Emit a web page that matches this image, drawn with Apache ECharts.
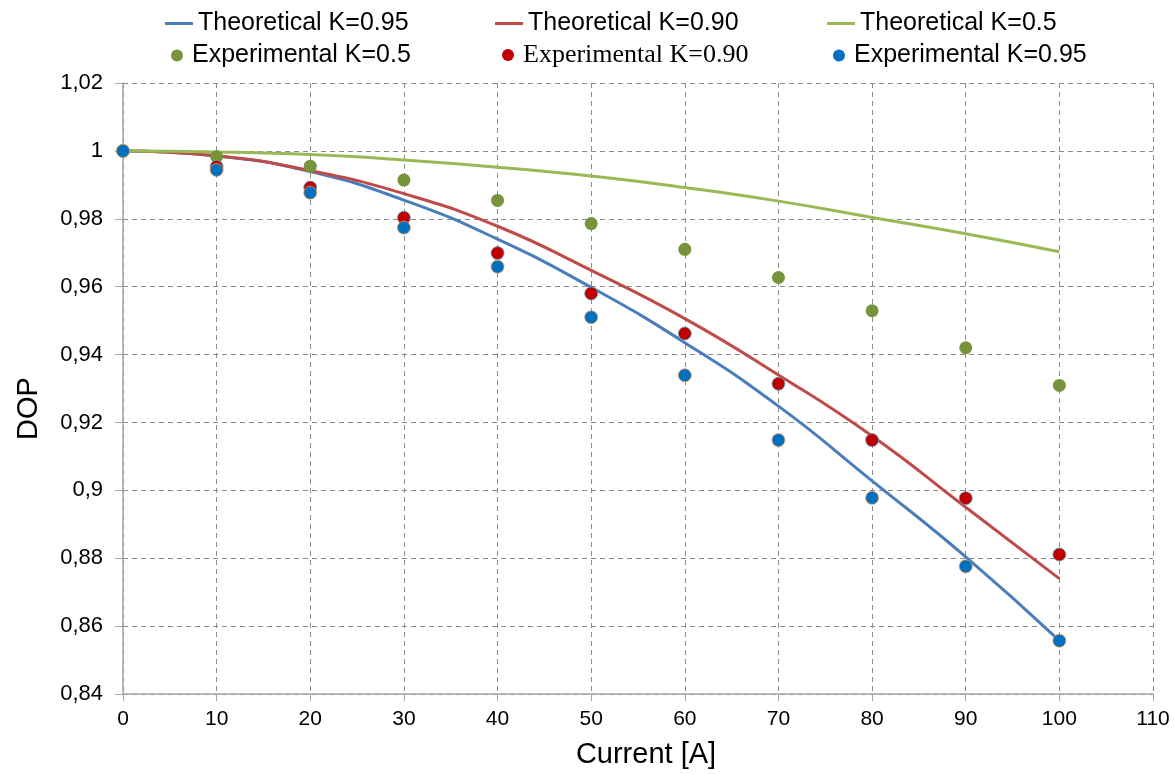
<!DOCTYPE html>
<html>
<head>
<meta charset="utf-8">
<script src="https://cdn.jsdelivr.net/npm/echarts@6/dist/echarts.min.js"></script>
<style>html,body{margin:0;padding:0;background:#fff}#c{width:1174px;height:774px}</style>
</head>
<body>
<div id="c"></div>
<script>
const currents = [0, 10, 20, 30, 40, 50, 60, 70, 80, 90, 100];
const theoK095 = [1.0, 0.9985, 0.9939, 0.9855, 0.9740, 0.9598, 0.9435, 0.9248, 0.9028, 0.8804, 0.8557];
const theoK090 = [1.0, 0.9986, 0.9942, 0.9874, 0.9778, 0.9648, 0.9506, 0.9340, 0.9160, 0.8950, 0.8740];
const theoK05  = [1.0, 0.9997, 0.9989, 0.9973, 0.9952, 0.9926, 0.9892, 0.9852, 0.9804, 0.9756, 0.9703];
const expK05   = [1.0, 0.9983, 0.9955, 0.9914, 0.9854, 0.9786, 0.9710, 0.9627, 0.9529, 0.9420, 0.9309];
const expK090  = [1.0, 0.9953, 0.9892, 0.9803, 0.9699, 0.9580, 0.9462, 0.9314, 0.9148, 0.8977, 0.8811];
const expK095  = [1.0, 0.9944, 0.9877, 0.9774, 0.9659, 0.9510, 0.9339, 0.9148, 0.8978, 0.8776, 0.8557];
const names = {
  t95: 'Theoretical K=0.95', t90: 'Theoretical K=0.90', t5: 'Theoretical K=0.5',
  e5: 'Experimental K=0.5', e90: 'Experimental K=0.90', e95: 'Experimental K=0.95'
};
const pairs = arr => currents.map((x, i) => [x, arr[i]]);

const chart = echarts.init(document.getElementById('c'), null, {renderer: 'canvas'});
const sans = 'Liberation Sans, Arial, sans-serif';
const baseText = {fontFamily: sans, fontSize: 25, color: '#000'};
function lineLegend(name, left, top) {
  return {data: [{name: name, icon: 'rect'}], left: left, top: top, itemWidth: 28, itemHeight: 3,
    textStyle: Object.assign({}, baseText), selectedMode: false};
}
function dotLegend(name, left, top, serif) {
  const ts = Object.assign({}, baseText);
  if (serif) { ts.fontFamily = 'Liberation Serif, Times New Roman, serif'; ts.fontSize = 26; }
  return {data: [{name: name, icon: 'circle', itemStyle: {borderWidth: 0}}], left: left, top: top,
    itemWidth: 20, itemHeight: 12, symbolKeepAspect: true, textStyle: ts, selectedMode: false};
}
const gridLine = {show: true, lineStyle: {color: '#8c8c8c', type: [5, 4], width: 1}};
const axisLine = {show: true, lineStyle: {color: '#a6a6a6', width: 1.5}};
const fmtY = v => Number(v.toFixed(2)).toString().replace('.', ',');

chart.setOption({
  animation: false,
  backgroundColor: '#fff',
  legend: [
    lineLegend(names.t95, 160, 6),
    lineLegend(names.t90, 490, 6),
    lineLegend(names.t5, 822, 6),
    dotLegend(names.e5, 166, 38),
    dotLegend(names.e90, 497, 37, true),
    dotLegend(names.e95, 828, 38)
  ],
  grid: {left: 123, right: 21, top: 83, bottom: 76, containLabel: false},
  xAxis: {
    type: 'value', min: 0, max: 110, interval: 10,
    axisLine: axisLine,
    axisTick: {show: true, length: 7, lineStyle: {color: '#a6a6a6'}},
    axisLabel: {fontFamily: sans, fontSize: 21, color: '#000', margin: 15},
    splitLine: gridLine,
    name: 'Current [A]', nameLocation: 'middle', nameGap: 46,
    nameTextStyle: {fontFamily: sans, fontSize: 29, color: '#000', padding: [0, 0, 0, 16]}
  },
  yAxis: {
    type: 'value', min: 0.84, max: 1.02, interval: 0.02,
    axisLine: axisLine,
    axisTick: {show: true, length: 8, inside: false, lineStyle: {color: '#a6a6a6'}},
    axisLabel: {fontFamily: sans, fontSize: 22, color: '#000', margin: 20, formatter: fmtY},
    splitLine: gridLine,
    name: 'DOP', nameLocation: 'middle', nameGap: 80, nameRotate: 90,
    nameTextStyle: {fontFamily: sans, fontSize: 29, color: '#000', padding: [0, 0, 0, -40]}
  },
  series: [
    {name: names.t95, type: 'line', data: pairs(theoK095), smooth: true, showSymbol: false,
      lineStyle: {color: '#4a7ebb', width: 3}, itemStyle: {color: '#4a7ebb'}, z: 2},
    {name: names.t90, type: 'line', data: pairs(theoK090), smooth: true, showSymbol: false,
      lineStyle: {color: '#be4b48', width: 3}, itemStyle: {color: '#be4b48'}, z: 2},
    {name: names.t5, type: 'line', data: pairs(theoK05), smooth: true, showSymbol: false,
      lineStyle: {color: '#98b954', width: 3}, itemStyle: {color: '#98b954'}, z: 2},
    {name: names.e5, type: 'scatter', data: pairs(expK05), symbolSize: 13,
      itemStyle: {color: '#77933c', opacity: 1}, z: 3},
    {name: names.e90, type: 'scatter', data: pairs(expK090), symbolSize: 13,
      itemStyle: {color: '#c00000', borderColor: '#4bacc6', borderWidth: 0.8, opacity: 1}, z: 4},
    {name: names.e95, type: 'scatter', data: pairs(expK095), symbolSize: 13,
      itemStyle: {color: '#0070c0', borderColor: '#f79646', borderWidth: 0.8, opacity: 1}, z: 5}
  ]
});
</script>
</body>
</html>
